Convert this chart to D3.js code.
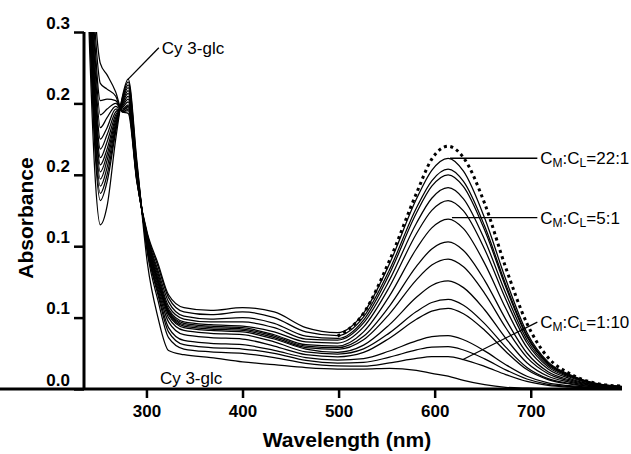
<!DOCTYPE html>
<html>
<head>
<meta charset="utf-8">
<script src="https://cdn.jsdelivr.net/npm/d3@7"></script>
<style>
  body { margin: 0; background: #fff; }
  svg { font-family: Arial, "Liberation Sans", sans-serif; }
  .tick-label { font-weight: bold; font-size: 17px; }
  .axis-title { font-weight: bold; font-size: 21px; }
  .note { font-size: 17px; }
</style>
</head>
<body>
<svg id="chart" width="631" height="454"></svg>
<script>
// wavelengths (nm) at which the spectra were read
var wavelengths = [235,241,246,252,259,268,275,281,290,301,312,323,339,367,400,433,466,499,526,553,581,597,614,630,652,674,696,718,740,768,795];

// absorbance spectra, Cy 3-glc first, then increasing metal ratio up to CM:CL=22:1
var spectra = [
  [0.36,0.235,0.155,0.115,0.128,0.175,0.205,0.217,0.16,0.088,0.05,0.027,0.024,0.022,0.019,0.017,0.015,0.014,0.014,0.0145,0.013,0.011,0.009,0.006,0.003,0.0012,0.0006,0.0003,0.0002,0.0001,0],
  [0.37,0.25,0.172,0.132,0.145,0.18,0.204,0.215,0.158,0.095,0.062,0.036,0.028,0.026,0.025,0.022,0.018,0.0162,0.016,0.0183,0.0214,0.0226,0.0226,0.0206,0.0158,0.0101,0.0053,0.0026,0.0013,0.0005,0.0002],
  [0.375,0.255,0.178,0.137,0.15,0.182,0.203,0.213,0.156,0.097,0.066,0.04,0.031,0.029,0.028,0.025,0.02,0.0182,0.0186,0.0223,0.0274,0.0294,0.0296,0.0273,0.0211,0.0134,0.007,0.0033,0.0018,0.0007,0.0003],
  [0.38,0.26,0.184,0.142,0.155,0.184,0.202,0.211,0.155,0.098,0.068,0.043,0.034,0.032,0.031,0.027,0.022,0.0203,0.0213,0.0266,0.0337,0.0366,0.0373,0.0345,0.0267,0.017,0.0089,0.0043,0.0023,0.0009,0.0004],
  [0.385,0.265,0.19,0.147,0.16,0.186,0.201,0.209,0.154,0.099,0.07,0.047,0.038,0.036,0.035,0.03,0.024,0.0225,0.0256,0.0356,0.0488,0.0545,0.0565,0.0527,0.0411,0.0263,0.0136,0.0066,0.0035,0.0013,0.0006],
  [0.39,0.27,0.196,0.152,0.164,0.188,0.2,0.207,0.153,0.1,0.072,0.05,0.041,0.039,0.038,0.033,0.026,0.0245,0.0281,0.0393,0.0542,0.0606,0.0628,0.0587,0.0458,0.0293,0.0151,0.0073,0.004,0.0015,0.0007],
  [0.395,0.275,0.202,0.157,0.168,0.19,0.199,0.205,0.152,0.101,0.074,0.052,0.043,0.041,0.04,0.035,0.028,0.0257,0.0307,0.0451,0.0642,0.0725,0.0757,0.071,0.0555,0.0355,0.0184,0.0089,0.0048,0.0018,0.0008],
  [0.4,0.28,0.208,0.162,0.173,0.192,0.198,0.203,0.151,0.102,0.075,0.053,0.044,0.042,0.041,0.036,0.029,0.0278,0.0345,0.0526,0.0764,0.0868,0.091,0.0856,0.067,0.0429,0.0221,0.0107,0.0057,0.0022,0.001],
  [0.405,0.285,0.215,0.168,0.178,0.194,0.197,0.201,0.15,0.103,0.076,0.054,0.045,0.043,0.042,0.037,0.03,0.0289,0.0369,0.0581,0.0859,0.0981,0.103,0.097,0.0761,0.0488,0.0252,0.0121,0.0065,0.0025,0.0011],
  [0.41,0.29,0.222,0.175,0.183,0.196,0.196,0.199,0.149,0.104,0.077,0.055,0.046,0.044,0.043,0.038,0.031,0.0301,0.04,0.0652,0.0982,0.1128,0.119,0.1123,0.088,0.0565,0.0291,0.014,0.0075,0.0029,0.0013],
  [0.415,0.296,0.23,0.183,0.19,0.198,0.195,0.198,0.148,0.105,0.079,0.056,0.047,0.045,0.044,0.04,0.033,0.0322,0.0435,0.0716,0.1087,0.1251,0.132,0.1247,0.0979,0.0628,0.0324,0.0155,0.0084,0.0032,0.0015],
  [0.42,0.302,0.238,0.192,0.196,0.2,0.195,0.197,0.147,0.106,0.081,0.058,0.049,0.047,0.047,0.043,0.035,0.0343,0.0463,0.0764,0.1161,0.1336,0.141,0.1332,0.1045,0.067,0.0345,0.0166,0.009,0.0034,0.0016],
  [0.43,0.31,0.246,0.202,0.203,0.202,0.194,0.196,0.146,0.107,0.083,0.061,0.051,0.049,0.05,0.046,0.037,0.0354,0.0483,0.0807,0.1232,0.142,0.15,0.1417,0.1113,0.0714,0.0367,0.0177,0.0095,0.0036,0.0017],
  [0.44,0.318,0.256,0.214,0.21,0.205,0.194,0.195,0.146,0.108,0.086,0.064,0.054,0.052,0.054,0.05,0.04,0.0374,0.0505,0.0835,0.1267,0.1458,0.154,0.1454,0.1141,0.0732,0.0377,0.0182,0.0097,0.0037,0.0017],
  [0.45,0.33,0.268,0.228,0.22,0.208,0.194,0.193,0.145,0.109,0.088,0.066,0.057,0.055,0.057,0.054,0.043,0.0395,0.0532,0.0877,0.133,0.1531,0.1615,0.1525,0.1197,0.0768,0.0396,0.019,0.0103,0.0039,0.0018]
];

// dotted (limiting) spectrum, visible band only
var limitWavelengths = [499,526,553,581,597,614,630,652,674,696,718,740,768,795];
var limitSpectrum = [0.037,0.053,0.09,0.137,0.161,0.170,0.162,0.13,0.085,0.046,0.022,0.011,0.004,0.002];

var xTicks = [300, 400, 500, 600, 700];
var yTicks = [0, 0.05, 0.10, 0.15, 0.20, 0.25];
var yTickLabels = ["0.0", "0.1", "0.1", "0.2", "0.2", "0.3"];

// annotations: text parts [string, isSubscript], anchor point on curve, label point
var notes = [
  {parts: [["Cy 3-glc", 0]], at: [281, 0.217], text: [316, 0.239]},
  {parts: [["C",0],["M",1],[":C",0],["L",1],["=22:1",0]], at: [616, 0.1616], text: [710, 0.1616]},
  {parts: [["C",0],["M",1],[":C",0],["L",1],["=5:1",0]], at: [618, 0.12], text: [710, 0.12]},
  {parts: [["C",0],["M",1],[":C",0],["L",1],["=1:10",0]], at: [629, 0.0205], text: [710, 0.0468]},
  {parts: [["Cy 3-glc", 0]], at: null, text: [314, 0.0075]}
];

var svg = d3.select("#chart");
var margin = {top: 32, right: 9, bottom: 65, left: 84};
var w = +svg.attr("width") - margin.left - margin.right;
var h = +svg.attr("height") - margin.top - margin.bottom;

var x = d3.scaleLinear().domain([235, 795]).range([margin.left, margin.left + w]);
var y = d3.scaleLinear().domain([0, 0.25]).range([margin.top + h, margin.top]);

svg.append("rect").attr("width", 631).attr("height", 454).attr("fill", "#fff");

svg.append("clipPath").attr("id", "plot-clip")
  .append("rect")
  .attr("x", margin.left).attr("y", margin.top)
  .attr("width", w).attr("height", h);

var line = d3.line()
  .curve(d3.curveMonotoneX)
  .x(function(d) { return x(d[0]); })
  .y(function(d) { return y(d[1]); });

var plot = svg.append("g").attr("clip-path", "url(#plot-clip)");

plot.selectAll(".spectrum")
  .data(spectra)
  .enter().append("path")
  .attr("class", "spectrum")
  .attr("fill", "none")
  .attr("stroke", "#000")
  .attr("stroke-width", 1.25)
  .attr("d", function(s) { return line(s.map(function(v, i) { return [wavelengths[i], v]; })); });

plot.append("path")
  .attr("fill", "none")
  .attr("stroke", "#000")
  .attr("stroke-width", 3)
  .attr("stroke-dasharray", "3,3.5")
  .attr("d", line(limitSpectrum.map(function(v, i) { return [limitWavelengths[i], v]; })));

// axes
var xAxis = svg.append("g")
  .attr("transform", "translate(0," + y(0) + ")")
  .call(d3.axisBottom(x).tickValues(xTicks).tickSize(9).tickPadding(7).tickFormat(d3.format("d")));
var yAxis = svg.append("g")
  .attr("transform", "translate(" + x(235) + ",0)")
  .call(d3.axisLeft(y).tickValues(yTicks).tickSize(10).tickPadding(4)
    .tickFormat(function(d, i) { return yTickLabels[i]; }));

[xAxis, yAxis].forEach(function(a) {
  a.select(".domain").attr("stroke-width", 3).attr("stroke", "#000");
  a.selectAll(".tick line").attr("stroke-width", 2.5).attr("stroke", "#000");
  a.selectAll(".tick text").attr("class", "tick-label").attr("fill", "#000")
    .style("font-family", "Arial, 'Liberation Sans', sans-serif");
});
yAxis.select(".domain").attr("d", "M0," + y(0.25) + "V" + y(0));
xAxis.select(".domain").attr("d", "M-10,0H" + x(795));
yAxis.selectAll(".tick text").attr("dy", "-0.22em");

svg.append("text").attr("class", "axis-title")
  .attr("x", 347).attr("y", 447).attr("text-anchor", "middle")
  .text("Wavelength (nm)");
svg.append("text").attr("class", "axis-title")
  .attr("transform", "translate(33,218) rotate(-90)")
  .attr("text-anchor", "middle")
  .text("Absorbance");

// annotations
notes.forEach(function(n) {
  if (n.at) {
    svg.append("line")
      .attr("x1", x(n.at[0])).attr("y1", y(n.at[1]))
      .attr("x2", x(n.text[0]) - 3).attr("y2", y(n.text[1]))
      .attr("stroke", "#000").attr("stroke-width", 1.3);
  }
  var t = svg.append("text").attr("class", "note")
    .attr("x", x(n.text[0])).attr("y", y(n.text[1])).attr("dy", "0.35em");
  n.parts.forEach(function(p) {
    t.append("tspan")
      .attr("font-size", p[1] ? "12px" : "17px")
      .attr("baseline-shift", p[1] ? "-25%" : null)
      .text(p[0]);
  });
});
</script>
</body>
</html>
